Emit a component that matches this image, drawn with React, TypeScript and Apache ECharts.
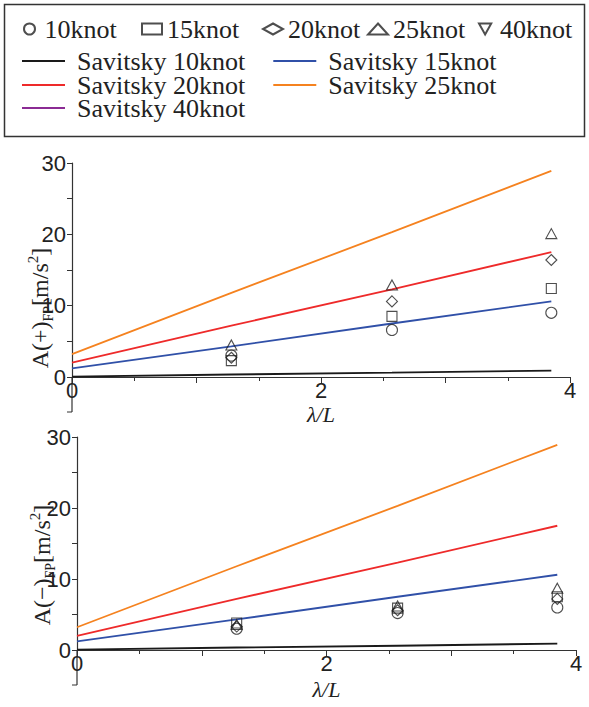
import React, { useEffect, useRef } from "react";
import * as echarts from "echarts";

const lambdaL = [0, 1.28, 2.57, 3.85];
const sav10 = [0.05, 0.35, 0.6, 0.9];
const sav15 = [1.2, 4.3, 7.5, 10.6];
const sav20 = [2.0, 7.2, 12.3, 17.5];
const sav25 = [3.2, 11.8, 20.3, 28.9];
const sav40: number[] = [];

const expX = [1.28, 2.57, 3.85];
const plus10 = [3.0, 6.6, 9.0];
const plus15 = [2.3, 8.5, 12.4];
const plus20 = [2.7, 10.6, 16.4];
const plus25 = [4.5, 12.9, 20.1];
const plus40: number[] = [];
const minus10 = [3.0, 5.2, 6.0];
const minus15 = [3.8, 5.9, 7.5];
const minus20 = [3.3, 5.6, 7.2];
const minus25 = [3.6, 6.2, 8.7];
const minus40: number[] = [];

const yTicks = [0, 10, 20, 30];
const xTicks = [0, 2, 4];

const markerNames = ["10knot", "15knot", "20knot", "25knot", "40knot"];
const lineNames = ["Savitsky 10knot", "Savitsky 15knot", "Savitsky 20knot", "Savitsky 25knot", "Savitsky 40knot"];
const lineColors = ["#1a1a1a", "#3050a8", "#ee2a2a", "#f5821f", "#8b2b94"];
const markerSymbols = ["circle", "rect", "diamond", "triangle", "path://M0,0L10,0L5,9Z"];
const markerSizes: any[] = [11, 10, 11, [11, 10], [11, 10]];

const serif = "'Liberation Serif', 'Times New Roman', serif";
const sans = "'Liberation Sans', Arial, sans-serif";

export default function App() {
  const ref = useRef<HTMLDivElement>(null);
  useEffect(() => {
    if (!ref.current) return;
    const chart = echarts.init(ref.current, null, { renderer: "svg" });

    const grids = [
      { left: 72, top: 163, width: 498, height: 214, outerBoundsMode: "none", containLabel: false },
      { left: 77, top: 437, width: 499, height: 213, outerBoundsMode: "none", containLabel: false },
    ];
    const nameGaps = [28, 30];

    const xAxisBase = (gi: number) => ({
      type: "value",
      gridIndex: gi,
      min: 0,
      max: 4,
      interval: 1,
      name: "λ/L",
      nameLocation: "middle",
      nameGap: nameGaps[gi],
      nameMoveOverlap: false,
      nameTextStyle: { fontFamily: serif, fontStyle: "italic", fontSize: 22, lineHeight: 18, color: "#222" },
      axisLine: { lineStyle: { color: "#333", width: 1.2 } },
      axisTick: { show: true, length: 6, lineStyle: { color: "#333" } },
      minorTick: { show: true, splitNumber: 2, length: 4, lineStyle: { color: "#333" } },
      splitLine: { show: false },
      axisLabel: {
        fontFamily: sans,
        fontSize: 22,
        lineHeight: 18,
        color: "#222",
        margin: 4,
        formatter: (v: number) => (xTicks.includes(v) ? String(v) : ""),
      },
    });

    const yAxisBase = (gi: number) => ({
      type: "value",
      gridIndex: gi,
      min: 0,
      max: 30,
      interval: 5,
      axisLine: { show: true, lineStyle: { color: "#333", width: 1.2 } },
      axisTick: { show: true, length: 5, lineStyle: { color: "#333" } },
      splitLine: { show: false },
      axisLabel: {
        fontFamily: sans,
        fontSize: 22,
        color: "#222",
        margin: 6,
        formatter: (v: number) => (yTicks.includes(v) ? String(v) : ""),
      },
    });

    const lineSets = [sav10, sav15, sav20, sav25, sav40];
    const plusSets = [plus10, plus15, plus20, plus25, plus40];
    const minusSets = [minus10, minus15, minus20, minus25, minus40];

    const series: any[] = [];
    [0, 1].forEach((gi) => {
      lineSets.forEach((vals, i) => {
        series.push({
          type: "line",
          name: lineNames[i],
          xAxisIndex: gi,
          yAxisIndex: gi,
          symbol: "none",
          data: vals.map((v, k) => [lambdaL[k], v]),
          lineStyle: { color: lineColors[i], width: 1.8 },
          itemStyle: { color: lineColors[i] },
          z: 2,
        });
      });
      const sets = gi === 0 ? plusSets : minusSets;
      sets.forEach((vals, i) => {
        series.push({
          type: "scatter",
          name: markerNames[i],
          xAxisIndex: gi,
          yAxisIndex: gi,
          symbol: markerSymbols[i],
          symbolSize: markerSizes[i],
          data: vals.map((v, k) => [expX[k], v]),
          itemStyle: { color: "rgba(255,255,255,0)", borderColor: "#222", borderWidth: 1.1 },
          z: 3,
        });
      });
    });

    const markerLefts = [18, 136, 257, 362, 473];
    const legends: any[] = markerNames.map((n, i) => ({
      left: markerLefts[i],
      top: 11,
      data: [n],
      itemWidth: 20,
      itemHeight: 11,
      textStyle: { fontFamily: serif, fontSize: 26, lineHeight: 24, color: "#222" },
      selectedMode: false,
    }));
    const lineRows = [
      [lineNames[0], lineNames[1]],
      [lineNames[2], lineNames[3]],
      [lineNames[4]],
    ];
    const rowTops = [43, 67, 90];
    lineRows.forEach((row, r) => {
      legends.push({
        left: 17,
        top: rowTops[r],
        itemGap: 28,
        data: row.map((n) => ({ name: n, icon: "rect" })),
        itemWidth: 43,
        itemHeight: 2,
        textStyle: { fontFamily: serif, fontSize: 26, lineHeight: 22, color: "#222", padding: [0, 0, 0, 7] },
        selectedMode: false,
      });
    });

    const yName = (sign: string) => ({
      type: "text",
      rotation: Math.PI / 2,
      style: {
        text: `{a|A(${sign})}{b|FP}{a|[m/s}{c|2}{a|]}`,
        textAlign: "center",
        textVerticalAlign: "middle",
        fill: "#222",
        rich: {
          a: { fontFamily: serif, fontSize: 24, lineHeight: 30, fill: "#222", verticalAlign: "middle" },
          b: { fontFamily: serif, fontSize: 14, lineHeight: 14, fill: "#222", verticalAlign: "bottom" },
          c: { fontFamily: serif, fontSize: 15, lineHeight: 15, fill: "#222", verticalAlign: "top" },
        },
      },
    });

    const axisExt = (g: any) => {
      const x = g.left;
      const y0 = g.top + g.height;
      const y1 = y0 + 35;
      return {
        type: "group",
        silent: true,
        children: [
          { type: "line", shape: { x1: x, y1: y0, x2: x, y2: y1 }, style: { stroke: "#333", lineWidth: 1.2 } },
          { type: "line", shape: { x1: x - 5, y1: y1, x2: x, y2: y1 }, style: { stroke: "#333", lineWidth: 1 } },
        ],
      };
    };

    chart.setOption({
      animation: false,
      backgroundColor: "#fff",
      grid: grids,
      xAxis: [xAxisBase(0), xAxisBase(1)],
      yAxis: [yAxisBase(0), yAxisBase(1)],
      legend: legends,
      series,
      graphic: [
        {
          type: "rect",
          shape: { x: 4.5, y: 4.5, width: 580, height: 132 },
          style: { fill: "none", stroke: "#333", lineWidth: 1.5 },
          silent: true,
        },
        axisExt(grids[0]),
        axisExt(grids[1]),
        { ...yName("+"), x: 40, y: 308 },
        { ...yName("−"), x: 42, y: 565 },
      ],
    });
    return () => chart.dispose();
  }, []);
  return <div ref={ref} style={{ width: 589, height: 707, position: "absolute", left: 0, top: 0 }} />;
}
